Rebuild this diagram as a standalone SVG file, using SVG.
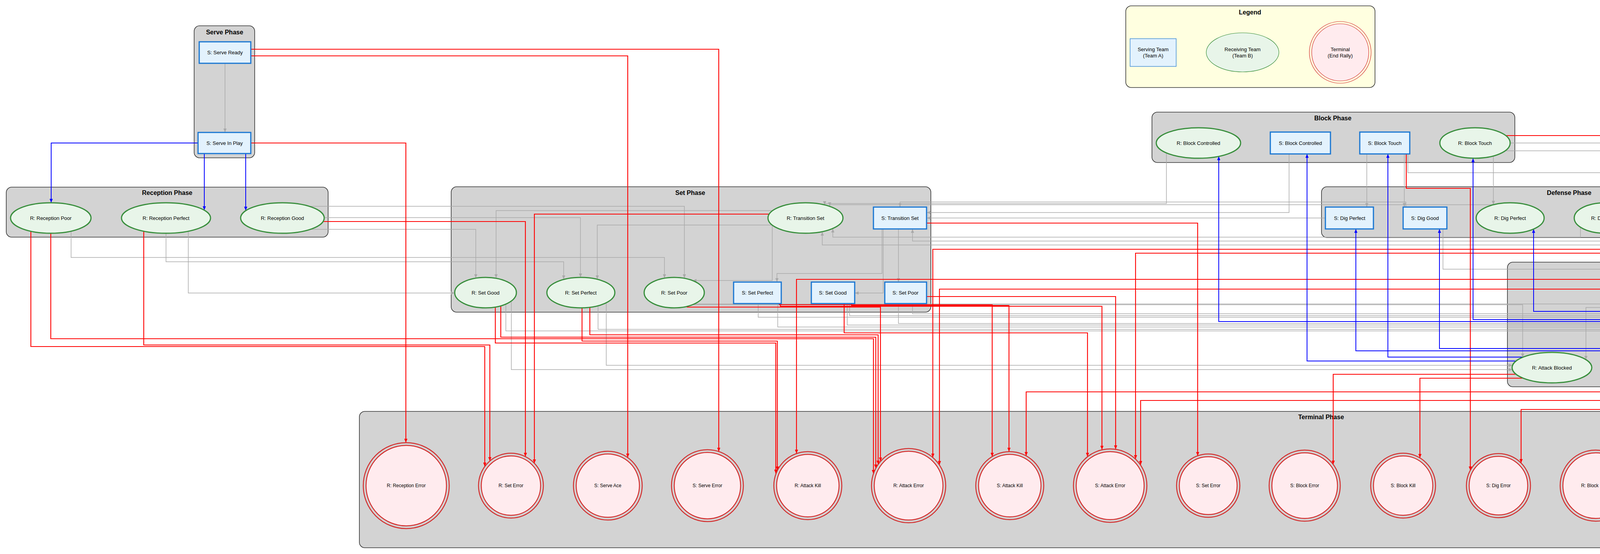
<svg xmlns="http://www.w3.org/2000/svg" width="5860" height="1418" viewBox="0 0 5860 1418">
<style>
.cl{fill:#d3d3d3;stroke:#333;stroke-width:1.6}
.lg{fill:#ffffe0;stroke:#333;stroke-width:1.6}
.ct{font-family:"Liberation Sans",Arial,sans-serif;font-size:16px;font-weight:bold;text-anchor:middle;fill:#000}
.sb{fill:#e3f2fd;stroke:#1976d2;stroke-width:3}
.re{fill:#e8f5e9;stroke:#388e3c;stroke-width:3}
.to{fill:none;stroke:#d32f2f;stroke-width:2.5}
.ti{fill:#ffebee;stroke:#d32f2f;stroke-width:2.5}
.t{font-family:"Liberation Sans",Arial,sans-serif;font-size:13px;text-anchor:middle;fill:#000}
.ts{font-family:"Liberation Sans",Arial,sans-serif;font-size:12px;text-anchor:middle;fill:#000}
.g{fill:none;stroke:#a9a9a9;stroke-width:1.5;marker-end:url(#ag)}
.r{fill:none;stroke:#ff0000;stroke-width:2.2;marker-end:url(#ar)}
.b{fill:none;stroke:#0000ff;stroke-width:2;marker-end:url(#ab)}
</style>
<defs>
<marker id="ag" markerUnits="userSpaceOnUse" markerWidth="10" markerHeight="8" refX="10" refY="4" orient="auto"><path d="M0,0 L10,4 L0,8 z" fill="#a9a9a9"/></marker>
<marker id="ar" markerUnits="userSpaceOnUse" markerWidth="10" markerHeight="8" refX="10" refY="4" orient="auto"><path d="M0,0 L10,4 L0,8 z" fill="#ff0000"/></marker>
<marker id="ab" markerUnits="userSpaceOnUse" markerWidth="10" markerHeight="8" refX="10" refY="4" orient="auto"><path d="M0,0 L10,4 L0,8 z" fill="#0000ff"/></marker>
</defs>
<rect width="5860" height="1418" fill="#fff"/>

<g id="clusters">
<g id="cluster_serve"><rect class="cl" x="497" y="66" width="155" height="338" rx="14"/><text class="ct" x="575" y="88">Serve Phase</text></g>
<g id="cluster_reception"><rect class="cl" x="16" y="479" width="824" height="128" rx="14"/><text class="ct" x="428" y="499">Reception Phase</text></g>
<g id="cluster_set"><rect class="cl" x="1155" y="478" width="1228" height="321" rx="14"/><text class="ct" x="1767" y="499">Set Phase</text></g>
<g id="cluster_legend"><rect class="lg" x="2882" y="15" width="638" height="209" rx="14"/><text class="ct" x="3200" y="37">Legend</text></g>
<g id="cluster_block"><rect class="cl" x="2949" y="287" width="929" height="129" rx="14"/><text class="ct" x="3412" y="308">Block Phase</text></g>
<g id="cluster_defense"><rect class="cl" x="3383" y="478" width="1229" height="130" rx="14"/><text class="ct" x="4017" y="499">Defense Phase</text></g>
<g id="cluster_attack"><rect class="cl" x="3859" y="671" width="936" height="319" rx="14"/><text class="ct" x="4327" y="690">Attack Phase</text></g>
<g id="cluster_terminal"><rect class="cl" x="920" y="1053" width="4924" height="349" rx="14"/><text class="ct" x="3382" y="1073">Terminal Phase</text></g>
</g>

<g id="connectors">
<path class="g" d="M576 162 V339"/>
<path class="g" d="M182 592 V659 H1701 V712"/>
<path class="g" d="M425 597 V670 H1443 V715"/>
<path class="g" d="M482 592 V750 H1164"/>
<path class="g" d="M791 528 H1752 V712"/>
<path class="g" d="M830 557 H1486 V710"/>
<path class="g" d="M797 587 H1218 V712"/>
<path class="g" d="M1975 539 H1270 V712"/>
<path class="g" d="M1977 576 H1529 V715"/>
<path class="g" d="M1977 576 V718 H1773"/>
<path class="g" d="M2258 586 V700 H1989 V722"/>
<path class="g" d="M2300 586 V722"/>
<path class="g" d="M2261 586 V750 H2188"/>
<path class="g" d="M2986 391 V521 H2111 V525"/>
<path class="g" d="M3823 524 H2124 V528"/>
<path class="g" d="M3599 530 V517 H2304 V530"/>
<path class="g" d="M4046 581 V607 H2132 V585"/>
<path class="g" d="M4475 588 V627 H2105 V593"/>
<path class="g" d="M4283 586 V617 H2336 V586"/>
<path class="g" d="M3300 394 V544 H2372"/>
<path class="g" d="M3393 558 H2372"/>
<path class="g" d="M3499 394 V530"/>
<path class="g" d="M3595 394 V530"/>
<path class="g" d="M3604 394 V442 H4318 V530"/>
<path class="g" d="M3823 399 V524"/>
<path class="g" d="M3853 386 H4109 V519"/>
<path class="g" d="M3866 366 H4525 V519"/>
<path class="g" d="M4151 591 H4349 V730"/>
<path class="g" d="M4360 586 V679 H4733 V722"/>
<path class="g" d="M4527 597 V723"/>
<path class="g" d="M3694 586 V689 H4682 V722"/>
<path class="g" d="M4342 762 V927"/>
<path class="g" d="M4420 787 H4060 V921"/>
<path class="g" d="M4764 777 V913"/>
<path class="g" d="M4636 777 V949 H4569"/>
<path class="g" d="M1295 778 V847 H4239 V902"/>
<path class="g" d="M1531 783 V843 H4214 V905"/>
<path class="g" d="M1777 778 H4181 V913"/>
<path class="g" d="M1775 780 H3898 V915"/>
<path class="g" d="M1309 770 V946 H3872"/>
<path class="g" d="M1552 775 V935 H3872"/>
<path class="g" d="M1941 777 V812 H4666 V913"/>
<path class="g" d="M1991 777 V837 H4447 V913"/>
<path class="g" d="M2175 777 V808 H4685 V913"/>
<path class="g" d="M2169 777 V832 H4468 V913"/>
<path class="g" d="M2336 777 V803 H4704 V913"/>
<path class="g" d="M2300 777 V828 H4489 V913"/>

<path class="r" d="M642 126 H1840 V1156"/>
<path class="r" d="M642 143 H1607 V1171"/>
<path class="r" d="M642 366 H1039 V1133"/>
<path class="r" d="M79 592 V887 H1241 V1194"/>
<path class="r" d="M130 597 V867 H2236 V1213"/>
<path class="r" d="M368 592 V883 H1254 V1180"/>
<path class="r" d="M827 567 H1345 V1169"/>
<path class="r" d="M1969 548 H1368 V1186"/>
<path class="r" d="M2372 571 H3066 V1167"/>
<path class="r" d="M1268 786 V878 H1986 V1212"/>
<path class="r" d="M1282 783 V863 H2242 V1199"/>
<path class="r" d="M1490 788 V873 H1990 V1204"/>
<path class="r" d="M1510 787 V857 H2248 V1189"/>
<path class="r" d="M1759 784 V786 H2254 V1181"/>
<path class="r" d="M4501 595 V638 H2388 V1171"/>
<path class="r" d="M4339 740 H2405 V1190"/>
<path class="r" d="M4392 715 H2039 V1161"/>
<path class="r" d="M1995 777 V780 H2540 V1169"/>
<path class="r" d="M2180 777 V782 H2583 V1156"/>
<path class="r" d="M1998 777 V784 H2821 V1151"/>
<path class="r" d="M2161 777 V852 H2784 V1169"/>
<path class="r" d="M2372 759 H2856 V1150"/>
<path class="r" d="M4300 586 V648 H2907 V1175"/>
<path class="r" d="M4639 777 V1003 H2627 V1167"/>
<path class="r" d="M4643 777 V1025 H2920 V1190"/>
<path class="r" d="M3881 958 H3413 V1189"/>
<path class="r" d="M3899 968 H3635 V1172"/>
<path class="r" d="M4160 957 V1048 H3894 V1185"/>
<path class="r" d="M3600 394 V482 H3764 V1204"/>
<path class="r" d="M3855 347 H4616 V1172"/>
<path class="r" d="M4654 969 V1213"/>
<path class="r" d="M4425 940 H4385 V1175"/>
<path class="r" d="M4462 969 V1071 H4169 V1208"/>

<path class="b" d="M507 366 H131 V519"/>
<path class="b" d="M523 393 V538"/>
<path class="b" d="M629 393 V539"/>
<path class="b" d="M4724 913 V797 H3926 V586"/>
<path class="b" d="M4744 913 V792 H4167 V584"/>
<path class="b" d="M4646 932 H4585 V582"/>
<path class="b" d="M4318 913 V586"/>
<path class="b" d="M4160 925 V892 H3685 V586"/>
<path class="b" d="M4174 916 V898 H3471 V586"/>
<path class="b" d="M4533 913 V818 H3771 V405"/>
<path class="b" d="M4510 913 V823 H3120 V400"/>
<path class="b" d="M3899 914 H3553 V394"/>
<path class="b" d="M3881 924 H3346 V394"/>
</g>

<g id="legend_serving"><rect x="2893" y="99" width="118" height="71" fill="#e3f2fd" stroke="#1976d2" stroke-width="1.2"/><text class="t" x="2952" y="131">Serving Team</text><text class="t" x="2952" y="147">(Team A)</text></g>
<g id="legend_receiving"><ellipse cx="3181" cy="134" rx="93" ry="50" fill="#e8f5e9" stroke="#388e3c" stroke-width="1.2"/><text class="t" x="3181" y="131">Receiving Team</text><text class="t" x="3181" y="147">(Team B)</text></g>
<g id="legend_terminal"><circle cx="3431" cy="134" r="79" fill="none" stroke="#d32f2f" stroke-width="1.2"/><circle cx="3431" cy="134" r="73" fill="#ffebee" stroke="#d32f2f" stroke-width="1.2"/><text class="t" x="3431" y="131">Terminal</text><text class="t" x="3431" y="147">(End Rally)</text></g>

<g id="s_serve_ready"><rect class="sb" x="510" y="107" width="132" height="55"/><text class="t" x="576" y="139">S: Serve Ready</text></g>
<g id="s_serve_in_play"><rect class="sb" x="507" y="339" width="135" height="54"/><text class="t" x="575" y="371">S: Serve In Play</text></g>

<g id="r_reception_poor"><ellipse class="re" cx="130" cy="558" rx="103" ry="39"/><text class="t" x="130" y="563">R: Reception Poor</text></g>
<g id="r_reception_perfect"><ellipse class="re" cx="425" cy="558" rx="114" ry="39"/><text class="t" x="425" y="563">R: Reception Perfect</text></g>
<g id="r_reception_good"><ellipse class="re" cx="723" cy="558" rx="107" ry="39"/><text class="t" x="723" y="563">R: Reception Good</text></g>

<g id="r_transition_set"><ellipse class="re" cx="2062" cy="558" rx="96" ry="39"/><text class="t" x="2062" y="563">R: Transition Set</text></g>
<g id="s_transition_set"><rect class="sb" x="2236" y="530" width="136" height="56"/><text class="t" x="2304" y="563">S: Transition Set</text></g>
<g id="r_set_good"><ellipse class="re" cx="1243" cy="749" rx="79" ry="39"/><text class="t" x="1243" y="754">R: Set Good</text></g>
<g id="r_set_perfect"><ellipse class="re" cx="1487" cy="749" rx="87" ry="39"/><text class="t" x="1487" y="754">R: Set Perfect</text></g>
<g id="r_set_poor"><ellipse class="re" cx="1726" cy="749" rx="77" ry="39"/><text class="t" x="1726" y="754">R: Set Poor</text></g>
<g id="s_set_perfect"><rect class="sb" x="1878" y="722" width="122" height="55"/><text class="t" x="1939" y="754">S: Set Perfect</text></g>
<g id="s_set_good"><rect class="sb" x="2077" y="722" width="111" height="55"/><text class="t" x="2132" y="754">S: Set Good</text></g>
<g id="s_set_poor"><rect class="sb" x="2265" y="722" width="107" height="55"/><text class="t" x="2318" y="754">S: Set Poor</text></g>

<g id="r_block_controlled"><ellipse class="re" cx="3068" cy="366" rx="108" ry="39"/><text class="t" x="3068" y="371">R: Block Controlled</text></g>
<g id="s_block_controlled"><rect class="sb" x="3252" y="338" width="154" height="56"/><text class="t" x="3329" y="371">S: Block Controlled</text></g>
<g id="s_block_touch"><rect class="sb" x="3481" y="338" width="128" height="56"/><text class="t" x="3545" y="371">S: Block Touch</text></g>
<g id="r_block_touch"><ellipse class="re" cx="3776" cy="366" rx="90" ry="39"/><text class="t" x="3776" y="371">R: Block Touch</text></g>

<g id="s_dig_perfect"><rect class="sb" x="3393" y="530" width="123" height="56"/><text class="t" x="3455" y="563">S: Dig Perfect</text></g>
<g id="s_dig_good"><rect class="sb" x="3592" y="530" width="112" height="56"/><text class="t" x="3648" y="563">S: Dig Good</text></g>
<g id="r_dig_perfect"><ellipse class="re" cx="3866" cy="558" rx="87" ry="39"/><text class="t" x="3866" y="563">R: Dig Perfect</text></g>
<g id="r_dig_good"><ellipse class="re" cx="4109" cy="558" rx="79" ry="39"/><text class="t" x="4109" y="563">R: Dig Good</text></g>
<g id="s_dig_poor"><rect class="sb" x="4264" y="530" width="108" height="56"/><text class="t" x="4318" y="563">S: Dig Poor</text></g>
<g id="r_dig_poor"><ellipse class="re" cx="4525" cy="558" rx="77" ry="39"/><text class="t" x="4525" y="563">R: Dig Poor</text></g>

<g id="r_transition_attack"><ellipse class="re" cx="4445" cy="749" rx="109" ry="39"/><text class="t" x="4445" y="754">R: Transition Attack</text></g>
<g id="s_transition_attack"><rect class="sb" x="4632" y="722" width="152" height="55"/><text class="t" x="4708" y="754">S: Transition Attack</text></g>
<g id="r_attack_blocked"><ellipse class="re" cx="3973" cy="941" rx="102" ry="39"/><text class="t" x="3973" y="946">R: Attack Blocked</text></g>
<g id="r_attack_in_play"><ellipse class="re" cx="4250" cy="941" rx="99" ry="39"/><text class="t" x="4250" y="946">R: Attack In Play</text></g>
<g id="s_attack_blocked"><rect class="sb" x="4425" y="913" width="144" height="56"/><text class="t" x="4497" y="946">S: Attack Blocked</text></g>
<g id="s_attack_in_play"><rect class="sb" x="4646" y="913" width="137" height="56"/><text class="t" x="4714" y="946">S: Attack In Play</text></g>

<g id="t_reception_error"><circle class="to" cx="1040" cy="1243" r="110"/><circle class="ti" cx="1040" cy="1243" r="103"/><text class="ts" x="1040" y="1247">R: Reception Error</text></g>
<g id="t_r_set_error"><circle class="to" cx="1308" cy="1243" r="83"/><circle class="ti" cx="1308" cy="1243" r="76"/><text class="ts" x="1308" y="1247">R: Set Error</text></g>
<g id="t_serve_ace"><circle class="to" cx="1556" cy="1243" r="88"/><circle class="ti" cx="1556" cy="1243" r="81"/><text class="ts" x="1556" y="1247">S: Serve Ace</text></g>
<g id="t_serve_error"><circle class="to" cx="1811" cy="1243" r="92"/><circle class="ti" cx="1811" cy="1243" r="85"/><text class="ts" x="1811" y="1247">S: Serve Error</text></g>
<g id="t_r_attack_kill"><circle class="to" cx="2068" cy="1243" r="87"/><circle class="ti" cx="2068" cy="1243" r="80"/><text class="ts" x="2068" y="1247">R: Attack Kill</text></g>
<g id="t_r_attack_error"><circle class="to" cx="2326" cy="1243" r="95"/><circle class="ti" cx="2326" cy="1243" r="88"/><text class="ts" x="2326" y="1247">R: Attack Error</text></g>
<g id="t_s_attack_kill"><circle class="to" cx="2585" cy="1243" r="87"/><circle class="ti" cx="2585" cy="1243" r="80"/><text class="ts" x="2585" y="1247">S: Attack Kill</text></g>
<g id="t_s_attack_error"><circle class="to" cx="2842" cy="1243" r="94"/><circle class="ti" cx="2842" cy="1243" r="87"/><text class="ts" x="2842" y="1247">S: Attack Error</text></g>
<g id="t_s_set_error"><circle class="to" cx="3093" cy="1243" r="81"/><circle class="ti" cx="3093" cy="1243" r="74"/><text class="ts" x="3093" y="1247">S: Set Error</text></g>
<g id="t_s_block_error"><circle class="to" cx="3340" cy="1243" r="91"/><circle class="ti" cx="3340" cy="1243" r="84"/><text class="ts" x="3340" y="1247">S: Block Error</text></g>
<g id="t_s_block_kill"><circle class="to" cx="3592" cy="1243" r="83"/><circle class="ti" cx="3592" cy="1243" r="76"/><text class="ts" x="3592" y="1247">S: Block Kill</text></g>
<g id="t_s_dig_error"><circle class="to" cx="3836" cy="1243" r="82"/><circle class="ti" cx="3836" cy="1243" r="75"/><text class="ts" x="3836" y="1247">S: Dig Error</text></g>
<g id="t_r_block_error"><circle class="to" cx="4085" cy="1243" r="91"/><circle class="ti" cx="4085" cy="1243" r="84"/><text class="ts" x="4085" y="1247">R: Block Error</text></g>
<g id="t_r_block_kill"><circle class="to" cx="4338" cy="1243" r="83"/><circle class="ti" cx="4338" cy="1243" r="76"/><text class="ts" x="4338" y="1247">R: Block Kill</text></g>
<g id="t_r_dig_error"><circle class="to" cx="4580" cy="1243" r="80"/><circle class="ti" cx="4580" cy="1243" r="73"/><text class="ts" x="4580" y="1247">R: Dig Error</text></g>
<g id="t_serving_wins"><circle class="to" cx="4879" cy="1243" r="140"/><circle class="ti" cx="4879" cy="1243" r="133"/><text class="ts" x="4879" y="1247">END: Serving Team Wins</text></g>
<g id="t_receiving_wins"><circle class="to" cx="5243" cy="1243" r="148"/><circle class="ti" cx="5243" cy="1243" r="141"/><text class="ts" x="5243" y="1247">END: Receiving Team Wins</text></g>
<g id="t_rally_continuation"><polygon points="5651,1188 5836,1243 5651,1298 5466,1243" fill="#f5f5f5" stroke="#757575" stroke-width="3"/><text class="ts" x="5651" y="1247">END: Rally Continuation</text></g>
</svg>
